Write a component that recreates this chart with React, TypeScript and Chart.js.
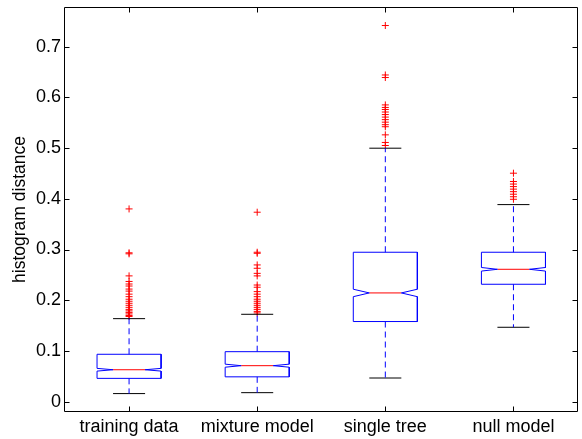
import React, { useEffect, useRef } from "react";
import { Chart, registerables } from "chart.js";

Chart.register(...registerables);

const categories = ["training data", "mixture model", "single tree", "null model"];
const q1 = [0.046, 0.049, 0.158, 0.2315];
const q3 = [0.0935, 0.0986, 0.2946, 0.2946];
const medians = [0.063, 0.071, 0.2144, 0.261];
const notchLo = [0.0603, 0.068, 0.207, 0.2575];
const notchHi = [0.0657, 0.074, 0.2217, 0.2645];
const whiskerLo = [0.016, 0.0178, 0.0467, 0.1467];
const whiskerHi = [0.1637, 0.1723, 0.4997, 0.3885];
const outliersTraining = [0.38, 0.2935, 0.2915, 0.248, 0.237, 0.232, 0.228, 0.222, 0.218, 0.212, 0.207, 0.202, 0.198, 0.194, 0.19, 0.186, 0.182, 0.179, 0.176, 0.173, 0.17, 0.168];
const outliersMixture = [0.3735, 0.2946, 0.2925, 0.2696, 0.263, 0.253, 0.248, 0.23, 0.2256, 0.217, 0.212, 0.207, 0.202, 0.198, 0.194, 0.19, 0.186, 0.182, 0.178, 0.175];
const outliersSingleTree = [0.7415, 0.644, 0.639, 0.585, 0.58, 0.576, 0.571, 0.566, 0.561, 0.556, 0.551, 0.546, 0.542, 0.526, 0.511, 0.505];
const outliersNull = [0.4504, 0.434, 0.429, 0.424, 0.419, 0.414, 0.409, 0.404, 0.399];
const outliers = [outliersTraining, outliersMixture, outliersSingleTree, outliersNull];
const yTicks = [0, 0.1, 0.2, 0.3, 0.4, 0.5, 0.6, 0.7];
const xTicks = [1, 2, 3, 4];

const BOX_HALF = 0.25;
const NOTCH_HALF = 0.125;
const CAP_HALF = 0.125;
const FONT = "'Liberation Sans', Arial, Helvetica, sans-serif";

function buildDatasets() {
  const ds: any[] = [];
  categories.forEach((_, i) => {
    const x = i + 1;
    const w = BOX_HALF;
    const nw = NOTCH_HALF;
    ds.push({
      data: [{ x, y: q3[i] }, { x, y: whiskerHi[i] }],
      showLine: true, borderColor: "#0000ff", borderWidth: 1, borderDash: [6, 4], pointRadius: 0,
    });
    ds.push({
      data: [{ x, y: q1[i] }, { x, y: whiskerLo[i] }],
      showLine: true, borderColor: "#0000ff", borderWidth: 1, borderDash: [6, 4], pointRadius: 0,
    });
    ds.push({
      data: [{ x: x - CAP_HALF, y: whiskerHi[i] }, { x: x + CAP_HALF, y: whiskerHi[i] }],
      showLine: true, borderColor: "#000000", borderWidth: 1, pointRadius: 0,
    });
    ds.push({
      data: [{ x: x - CAP_HALF, y: whiskerLo[i] }, { x: x + CAP_HALF, y: whiskerLo[i] }],
      showLine: true, borderColor: "#000000", borderWidth: 1, pointRadius: 0,
    });
    ds.push({
      data: [
        { x: x - w, y: q1[i] },
        { x: x - w, y: notchLo[i] },
        { x: x - nw, y: medians[i] },
        { x: x - w, y: notchHi[i] },
        { x: x - w, y: q3[i] },
        { x: x + w, y: q3[i] },
        { x: x + w, y: notchHi[i] },
        { x: x + nw, y: medians[i] },
        { x: x + w, y: notchLo[i] },
        { x: x + w, y: q1[i] },
        { x: x - w, y: q1[i] },
      ],
      showLine: true, borderColor: "#0000ff", borderWidth: 1, pointRadius: 0, tension: 0,
    });
    ds.push({
      data: [{ x: x - nw, y: medians[i] }, { x: x + nw, y: medians[i] }],
      showLine: true, borderColor: "#ff0000", borderWidth: 1, pointRadius: 0,
    });
    ds.push({
      data: outliers[i].map((v) => ({ x, y: v })),
      showLine: false, pointStyle: "cross", pointRadius: 3.5, borderColor: "#ff0000",
      backgroundColor: "#ff0000", pointBorderWidth: 1, pointHoverRadius: 3.5,
    });
  });
  return ds;
}

const frame = {
  id: "frame",
  afterDraw(chart: any) {
    const { ctx, chartArea } = chart;
    const { left, right, top, bottom } = chartArea;
    const L = Math.round(left) - 0.5;
    const R = Math.round(right) - 0.5;
    const T = Math.round(top) + 0.5;
    const B = Math.round(bottom) - 0.5;
    ctx.save();
    ctx.strokeStyle = "#000000";
    ctx.lineWidth = 1;
    ctx.beginPath();
    ctx.rect(L, T, R - L, B - T);
    const ys = chart.scales.y;
    const xs = chart.scales.x;
    const tl = 5;
    yTicks.forEach((v) => {
      const p = Math.round(ys.getPixelForValue(v)) + 0.5;
      ctx.moveTo(L, p); ctx.lineTo(L + tl, p);
      ctx.moveTo(R, p); ctx.lineTo(R - tl, p);
    });
    xTicks.forEach((v) => {
      const p = Math.round(xs.getPixelForValue(v)) + 0.5;
      ctx.moveTo(p, B); ctx.lineTo(p, B - tl);
      ctx.moveTo(p, T); ctx.lineTo(p, T + tl);
    });
    ctx.stroke();
    ctx.restore();
  },
};

export default function App() {
  const ref = useRef<HTMLCanvasElement>(null);
  useEffect(() => {
    document.body.style.margin = "0";
    const chart = new Chart(ref.current!, {
      type: "scatter",
      data: { datasets: buildDatasets() },
      options: {
        animation: false,
        responsive: false,
        events: [],
        layout: { padding: { top: 7, right: 4, left: 0, bottom: 0 } },
        plugins: { legend: { display: false }, tooltip: { enabled: false } },
        scales: {
          x: {
            type: "linear",
            min: 0.5,
            max: 4.5,
            grid: { display: false, drawTicks: false, tickLength: 0 },
            border: { display: false },
            afterBuildTicks: (s: any) => { s.ticks = xTicks.map((v) => ({ value: v })); },
            afterFit: (s: any) => { s.height = 27; s.paddingLeft = 0; s.paddingRight = 0; },
            ticks: {
              padding: 4,
              color: "#000000",
              font: { family: FONT, size: 18 },
              maxRotation: 0,
              autoSkip: false,
              callback: (v: any) => categories[Math.round(Number(v)) - 1],
            },
          },
          y: {
            type: "linear",
            min: -0.0203,
            max: 0.778,
            grid: { display: false, drawTicks: false, tickLength: 0 },
            border: { display: false },
            afterBuildTicks: (s: any) => { s.ticks = yTicks.map((v) => ({ value: v })); },
            afterFit: (s: any) => { s.width = 65; s.paddingTop = 0; s.paddingBottom = 0; },
            ticks: {
              padding: 4,
              color: "#000000",
              font: { family: FONT, size: 18 },
              callback: (v: any) => String(Math.round(Number(v) * 10) / 10),
            },
            title: {
              display: true,
              text: "histogram distance",
              color: "#000000",
              font: { family: FONT, size: 17.5 },
              padding: { top: 10, bottom: 0 },
            },
          },
        },
      },
      plugins: [frame],
    });
    return () => chart.destroy();
  }, []);
  return <canvas ref={ref} width={582} height={439} style={{ display: "block" }} />;
}
